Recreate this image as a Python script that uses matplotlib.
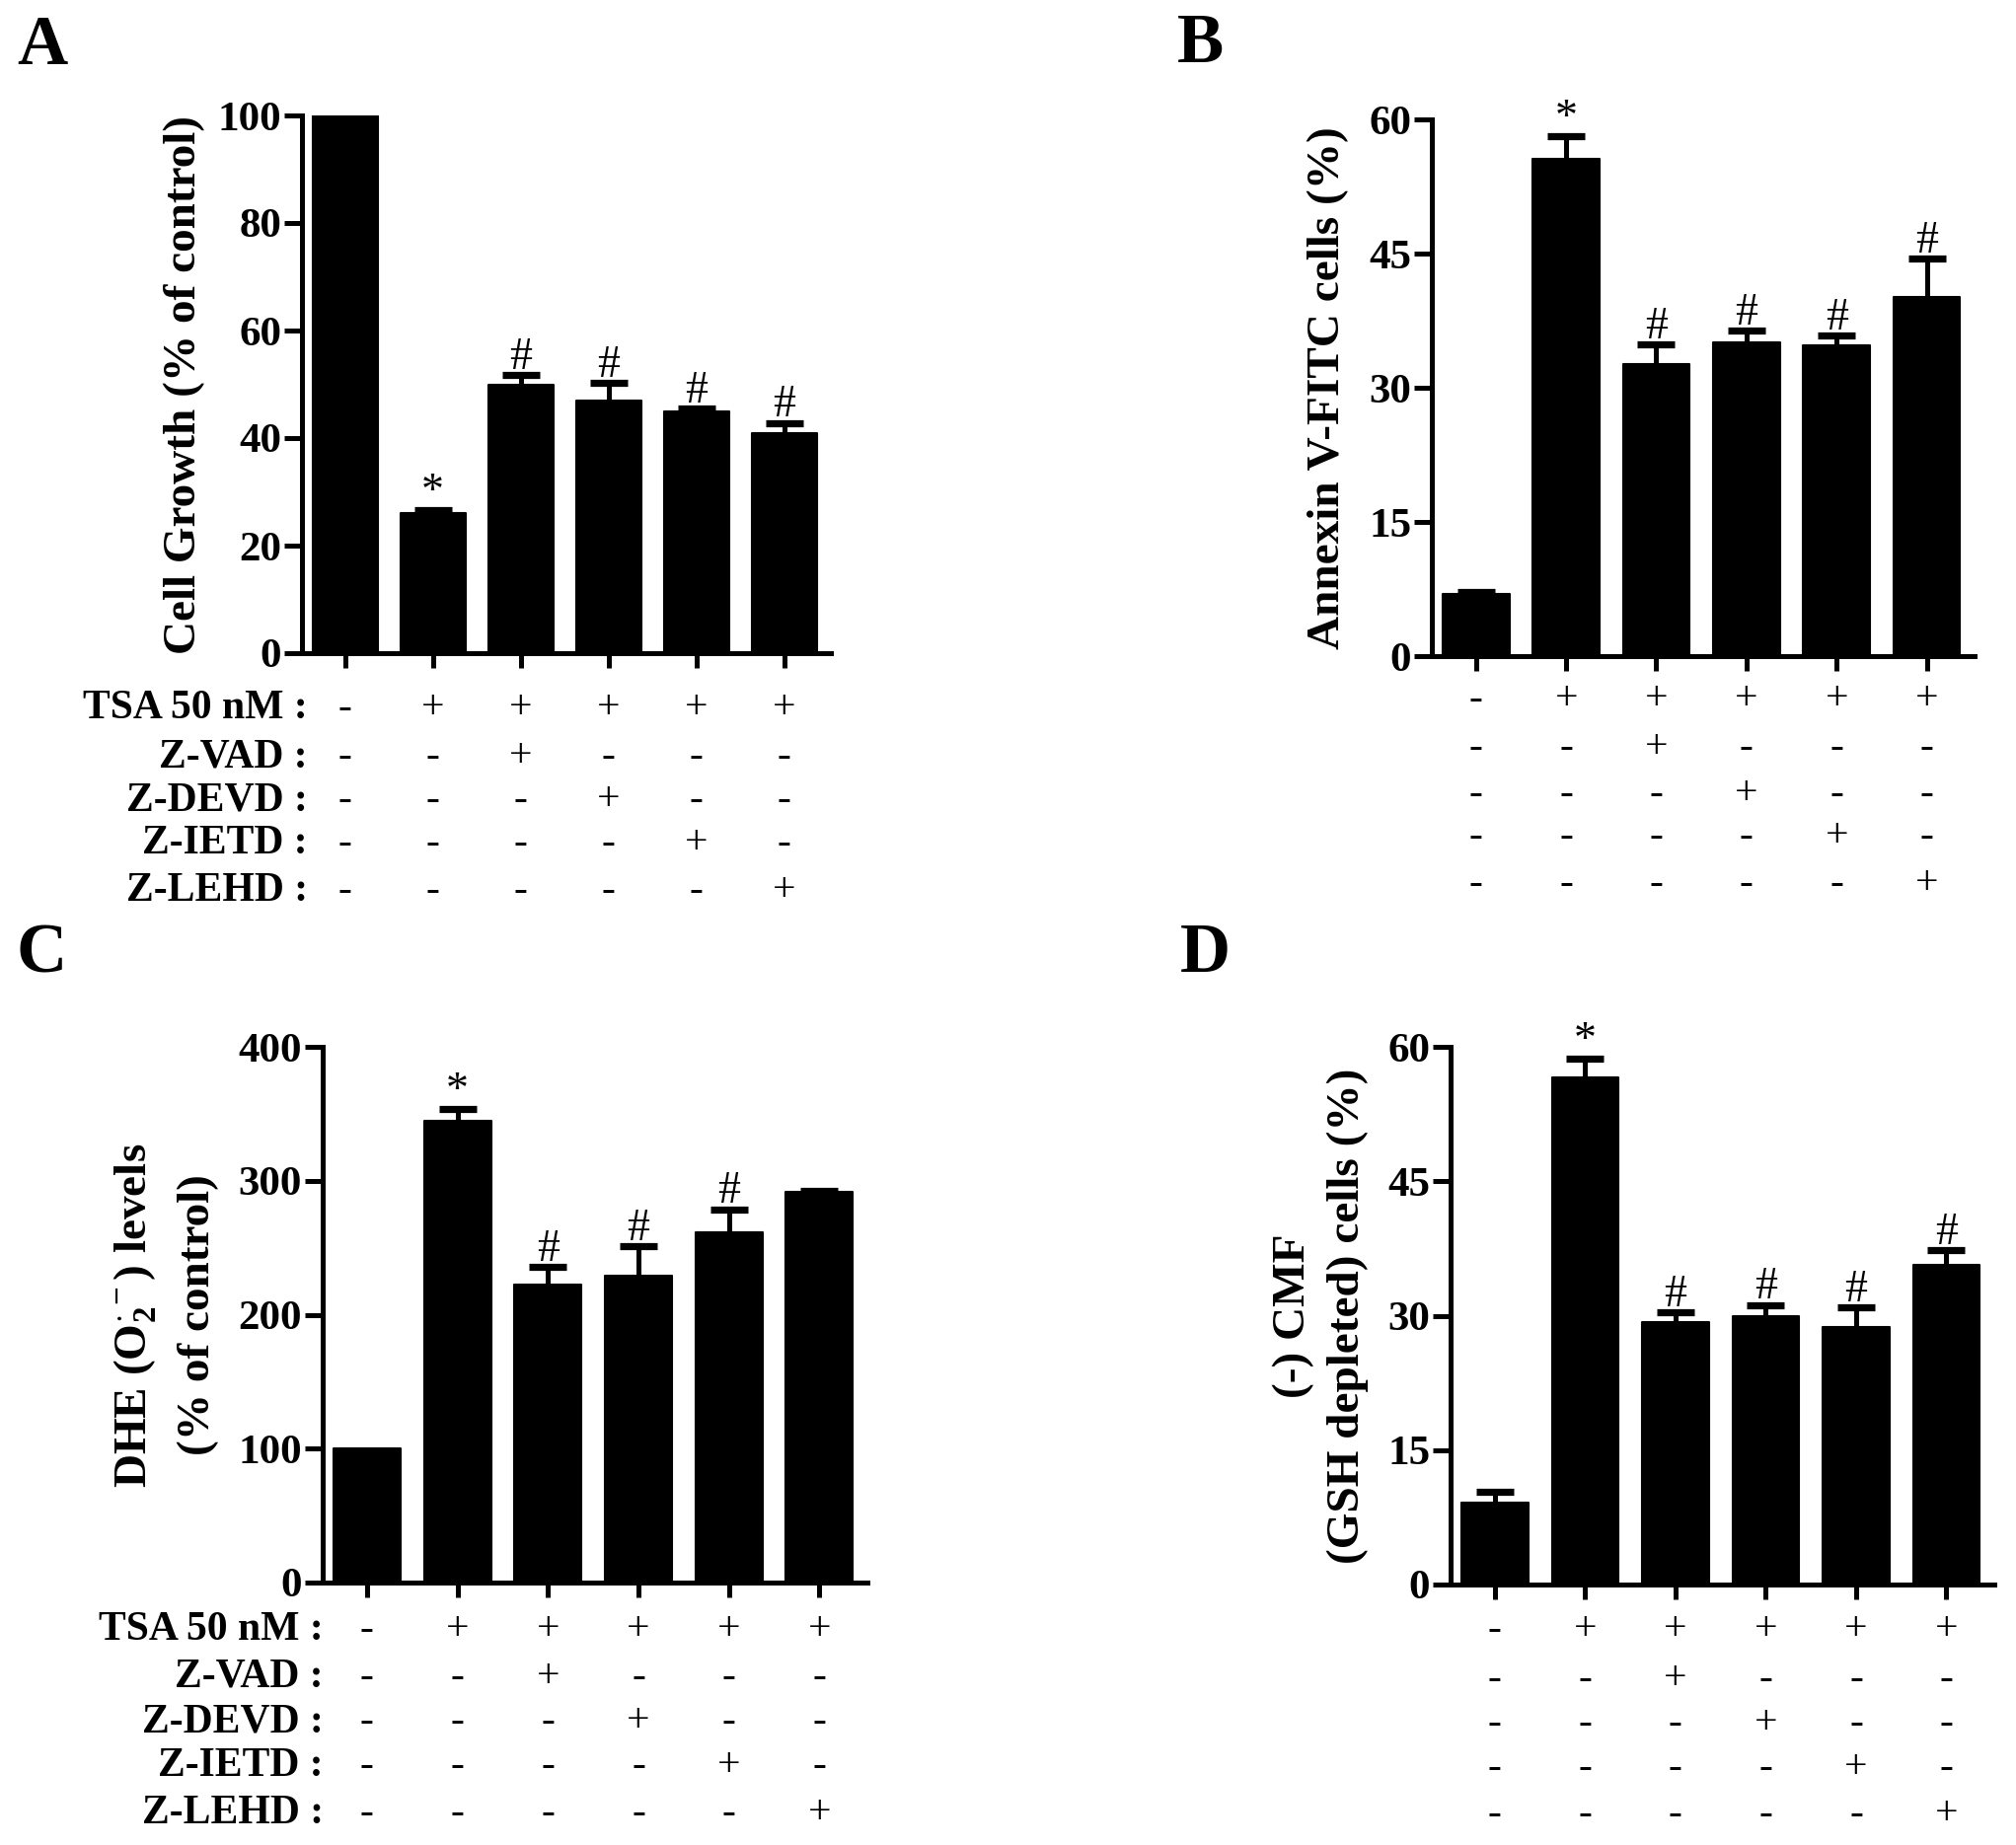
import matplotlib
matplotlib.use('Agg')
import matplotlib.pyplot as plt
import numpy as np
from matplotlib.transforms import blended_transform_factory

plt.rcParams['font.family'] = ['Liberation Serif', 'DejaVu Serif']
plt.rcParams['mathtext.fontset'] = 'custom'
plt.rcParams['mathtext.rm'] = 'Liberation Serif:bold'
plt.rcParams['mathtext.bf'] = 'Liberation Serif:bold'
plt.rcParams['mathtext.it'] = 'Liberation Serif:bold:italic'

# ---------------- data ----------------
treatments = ['TSA 50 nM :', 'Z-VAD :', 'Z-DEVD :', 'Z-IETD :', 'Z-LEHD :']
design = [['-', '+', '+', '+', '+', '+'],
          ['-', '-', '+', '-', '-', '-'],
          ['-', '-', '-', '+', '-', '-'],
          ['-', '-', '-', '-', '+', '-'],
          ['-', '-', '-', '-', '-', '+']]

a_vals = [100, 26.0, 49.9, 46.9, 44.9, 40.9]
a_err = [0, 0.6, 1.8, 3.4, 0.6, 1.9]
a_marks = ['', '*', '#', '#', '#', '#']
a_ticks = [0, 20, 40, 60, 80, 100]

b_vals = [6.9, 55.6, 32.6, 35.1, 34.7, 40.2]
b_err = [0.3, 2.5, 2.2, 1.3, 1.1, 4.2]
b_marks = ['', '*', '#', '#', '#', '#']
b_ticks = [0, 15, 30, 45, 60]

c_vals = [100, 344.9, 222.7, 228.9, 261.5, 292.0]
c_err = [0, 8.8, 13.2, 22.0, 17.2, 0.5]
c_marks = ['', '*', '#', '#', '#', '']
c_ticks = [0, 100, 200, 300, 400]

d_vals = [9.1, 56.6, 29.3, 29.9, 28.7, 35.7]
d_err = [1.2, 2.1, 1.1, 1.3, 2.2, 1.6]
d_marks = ['', '*', '#', '#', '#', '#']
d_ticks = [0, 15, 30, 45, 60]

# ---------------- layout ----------------
W, H = 2043, 1870
fig = plt.figure(figsize=(W / 100, H / 100), dpi=100)

LW = 3.6


def panel(rect, vals, errs, marks, ticks, rows_y, label_x, ylabels, ylab_y, letter, letter_xy):
    l, t, r, b = rect
    ax = fig.add_axes([l / W, 1 - b / H, (r - l) / W, (b - t) / H])
    x = np.arange(len(vals))
    ax.bar(x, vals, width=0.74, color='black', edgecolor='black', linewidth=1.5,
           joinstyle='round', zorder=2)
    e = np.array(errs, dtype=float)
    v = np.array(vals, dtype=float)
    m = e > 0
    _, caps, _ = ax.errorbar(x[m], v[m], yerr=[np.zeros(m.sum()), e[m]], fmt='none',
                             ecolor='black', elinewidth=LW, capsize=13.5, capthick=5.2,
                             zorder=1)
    caps[0].set_visible(False)
    for j, mk in enumerate(marks):
        if mk:
            ax.annotate(mk, (x[j], v[j] + e[j]), xytext=(0, 4.5), textcoords='offset points',
                        ha='center', va='baseline', fontsize=33, fontweight='normal')
    ax.set_xlim(-0.49, 5.53)
    ax.set_ylim(0, ticks[-1])
    ax.set_yticks(ticks)
    ax.set_xticks(x)
    ax.set_xticklabels([])
    for s in ['top', 'right']:
        ax.spines[s].set_visible(False)
    for s in ['left', 'bottom']:
        ax.spines[s].set_linewidth(LW)
    ax.tick_params(axis='y', direction='out', length=13, width=LW, pad=2, labelsize=31)
    ax.tick_params(axis='x', direction='out', length=11, width=LW)
    for lab in ax.get_yticklabels():
        lab.set_fontweight('bold')
    trans = blended_transform_factory(ax.transData, fig.transFigure)
    for i, row in enumerate(design):
        for j, sym in enumerate(row):
            ax.text(j, 1 - rows_y[i] / H, sym, transform=trans, ha='center', va='center',
                    fontsize=30, fontweight='normal', clip_on=False)
        if label_x is not None:
            fig.text(label_x / W, 1 - rows_y[i] / H, treatments[i], ha='right', va='center',
                     fontsize=30, fontweight='bold')
    for txt, xx in ylabels:
        fig.text(xx / W, 1 - ylab_y / H, txt, rotation=90, ha='center', va='center',
                 fontsize=34, fontweight='bold')
    fig.text(letter_xy[0] / W, 1 - letter_xy[1] / H, letter, ha='left', va='baseline',
             fontsize=51, fontweight='bold')
    return ax


panel((306, 117, 842, 662), a_vals, a_err, a_marks, a_ticks,
      [718, 767, 811, 855, 903], 312,
      [('Cell Growth (% of control)', 187)], 390, 'A', (17, 65))
panel((1451, 121, 2001, 665), b_vals, b_err, b_marks, b_ticks,
      [709, 758, 805, 848, 896], None,
      [('Annexin V-FITC cells (%)', 1346)], 393, 'B', (1193, 63))
panel((327, 1061, 879, 1604), c_vals, c_err, c_marks, c_ticks,
      [1652, 1700, 1745, 1790, 1838], 328,
      [(r'DHE (O$_{\mathbf{2}}^{\cdot\,-}$) levels', 137), ('(% of control)', 201)], 1333,
      'C', (17, 985))
panel((1470, 1061, 2021, 1606), d_vals, d_err, d_marks, d_ticks,
      [1652, 1702, 1747, 1792, 1839], None,
      [('(-) CMF', 1311), ('(GSH depleted) cells (%)', 1366)], 1334, 'D', (1196, 985))

fig.savefig('out.png', dpi=100, facecolor='white')
